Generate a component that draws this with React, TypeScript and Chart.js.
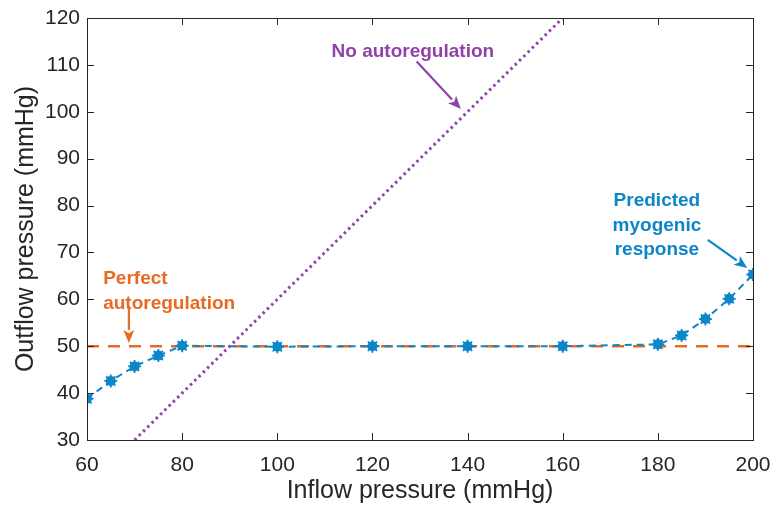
import React, { useEffect, useRef } from "react";
import { Chart, registerables } from "chart.js";

Chart.register(...registerables);

// ---- data ----
const inflowPressure = [60, 65, 70, 75, 80, 100, 120, 140, 160, 180, 185, 190, 195, 200];
const predictedOutflow = [38.8, 42.6, 45.7, 48.0, 50.1, 49.9, 50.0, 50.0, 50.0, 50.4, 52.3, 55.8, 60.1, 65.3];
const perfectX = [60, 200];
const perfectY = [50, 50];
const noAutoX = [70, 160];
const noAutoY = [30, 120];
const xTicks = [60, 80, 100, 120, 140, 160, 180, 200];
const yTicks = [30, 40, 50, 60, 70, 80, 90, 100, 110, 120];

const BLUE = "#0b86c8";
const ORANGE = "#e66a22";
const PURPLE = "#9142aa";
const AXIS = "#262626";
const FONT = "'Liberation Sans', Arial, sans-serif";

// annotations in data coordinates
const annotationTexts = [
  { lines: ["No autoregulation"], x: 128.5, y: 112.8, color: PURPLE, align: "center" },
  { lines: ["Perfect", "autoregulation"], x: 63.4, y: 64.3, color: ORANGE, align: "left" },
  { lines: ["Predicted", "myogenic", "response"], x: 179.8, y: 81.0, color: BLUE, align: "center" },
];
const annotationArrows = [
  { from: [129.3, 110.7], to: [138.6, 100.6], color: PURPLE },
  { from: [68.8, 58.6], to: [68.8, 50.7], color: ORANGE },
  { from: [190.5, 72.7], to: [198.8, 66.7], color: BLUE },
];

const pts = (xs: number[], ys: number[]) => xs.map((x, i) => ({ x, y: ys[i] }));

const decorPlugin = {
  id: "decor",
  afterDraw(chart: any) {
    const { ctx, chartArea: a, scales } = chart;
    const xs = scales.x;
    const ys = scales.y;
    ctx.save();
    ctx.strokeStyle = AXIS;
    ctx.lineWidth = 1;
    ctx.strokeRect(Math.round(a.left) + 0.5, Math.round(a.top) + 0.5, Math.round(a.right - a.left), Math.round(a.bottom - a.top));
    const tl = 7;
    ctx.beginPath();
    xTicks.forEach((v) => {
      const px = Math.round(xs.getPixelForValue(v)) + 0.5;
      ctx.moveTo(px, a.bottom);
      ctx.lineTo(px, a.bottom - tl);
      ctx.moveTo(px, a.top);
      ctx.lineTo(px, a.top + tl);
    });
    yTicks.forEach((v) => {
      const py = Math.round(ys.getPixelForValue(v)) + 0.5;
      ctx.moveTo(a.left, py);
      ctx.lineTo(a.left + tl, py);
      ctx.moveTo(a.right, py);
      ctx.lineTo(a.right - tl, py);
    });
    ctx.stroke();

    annotationArrows.forEach((ar) => {
      const x1 = xs.getPixelForValue(ar.from[0]);
      const y1 = ys.getPixelForValue(ar.from[1]);
      const x2 = xs.getPixelForValue(ar.to[0]);
      const y2 = ys.getPixelForValue(ar.to[1]);
      const ang = Math.atan2(y2 - y1, x2 - x1);
      const hl = 13;
      const hw = 5.5;
      const bx = x2 - hl * Math.cos(ang);
      const by = y2 - hl * Math.sin(ang);
      ctx.strokeStyle = ar.color;
      ctx.fillStyle = ar.color;
      ctx.lineWidth = 2.2;
      ctx.beginPath();
      ctx.moveTo(x1, y1);
      ctx.lineTo(bx, by);
      ctx.stroke();
      ctx.beginPath();
      ctx.moveTo(x2, y2);
      ctx.lineTo(bx + hw * Math.sin(ang), by - hw * Math.cos(ang));
      ctx.lineTo(x2 - hl * 0.75 * Math.cos(ang), y2 - hl * 0.75 * Math.sin(ang));
      ctx.lineTo(bx - hw * Math.sin(ang), by + hw * Math.cos(ang));
      ctx.closePath();
      ctx.fill();
    });

    ctx.font = "bold 19px " + FONT;
    ctx.textBaseline = "middle";
    annotationTexts.forEach((t) => {
      const px = xs.getPixelForValue(t.x);
      const py = ys.getPixelForValue(t.y);
      ctx.fillStyle = t.color;
      ctx.textAlign = t.align as CanvasTextAlign;
      t.lines.forEach((ln, i) => ctx.fillText(ln, px, py + i * 24.5));
    });
    ctx.restore();
  },
};

export default function App() {
  const ref = useRef<HTMLCanvasElement | null>(null);
  useEffect(() => {
    if (!ref.current) return;
    const chart = new Chart(ref.current, {
      type: "scatter",
      data: {
        datasets: [
          {
            data: pts(noAutoX, noAutoY),
            showLine: true,
            borderColor: PURPLE,
            borderWidth: 3,
            borderDash: [2.5, 3.5],
            pointRadius: 0,
            order: 0,
          },
          {
            data: pts(inflowPressure, predictedOutflow),
            showLine: true,
            borderColor: BLUE,
            backgroundColor: BLUE,
            borderWidth: 2,
            borderDash: [7, 5],
            pointStyle: "circle",
            pointRadius: 5,
            pointBorderWidth: 0,
            order: 1,
          },
          {
            data: pts(inflowPressure, predictedOutflow),
            showLine: false,
            borderColor: BLUE,
            backgroundColor: BLUE,
            pointStyle: "star",
            pointRadius: 6.5,
            pointBorderWidth: 1.8,
            order: 1,
          },
          {
            data: pts(perfectX, perfectY),
            showLine: true,
            borderColor: ORANGE,
            borderWidth: 2.5,
            borderDash: [12, 9],
            pointRadius: 0,
            order: 2,
          },
        ],
      },
      options: {
        responsive: false,
        animation: false,
        layout: { padding: { top: 18, right: 17, left: 0, bottom: 0 } },
        plugins: { legend: { display: false }, tooltip: { enabled: false } },
        scales: {
          x: {
            type: "linear",
            min: 60,
            max: 200,
            afterBuildTicks: (s: any) => {
              s.ticks = xTicks.map((v) => ({ value: v }));
            },
            afterFit: (s: any) => {
              s.height = 66;
              s.paddingLeft = 0;
              s.paddingRight = 0;
            },
            grid: { display: false, drawTicks: false },
            border: { display: false },
            ticks: {
              color: AXIS,
              padding: 13,
              font: { family: FONT, size: 21 },
              maxRotation: 0,
            },
            title: {
              display: true,
              text: "Inflow pressure (mmHg)",
              color: AXIS,
              padding: { top: 0, bottom: 0 },
              font: { family: FONT, size: 25 },
            },
          },
          y: {
            type: "linear",
            min: 30,
            max: 120,
            afterBuildTicks: (s: any) => {
              s.ticks = yTicks.map((v) => ({ value: v }));
            },
            afterFit: (s: any) => {
              s.width = 87;
              s.paddingTop = 0;
              s.paddingBottom = 0;
            },
            grid: { display: false, drawTicks: false },
            border: { display: false },
            ticks: {
              color: AXIS,
              padding: 7,
              font: { family: FONT, size: 21 },
            },
            title: {
              display: true,
              text: "Outflow pressure (mmHg)",
              color: AXIS,
              padding: { top: 11, bottom: 0 },
              font: { family: FONT, size: 25 },
            },
          },
        },
      },
      plugins: [decorPlugin],
    });
    return () => chart.destroy();
  }, []);
  return (
    <div style={{ position: "fixed", left: 0, top: 0, width: 770, height: 506, background: "#fff" }}>
      <canvas ref={ref} width={770} height={506} />
    </div>
  );
}
